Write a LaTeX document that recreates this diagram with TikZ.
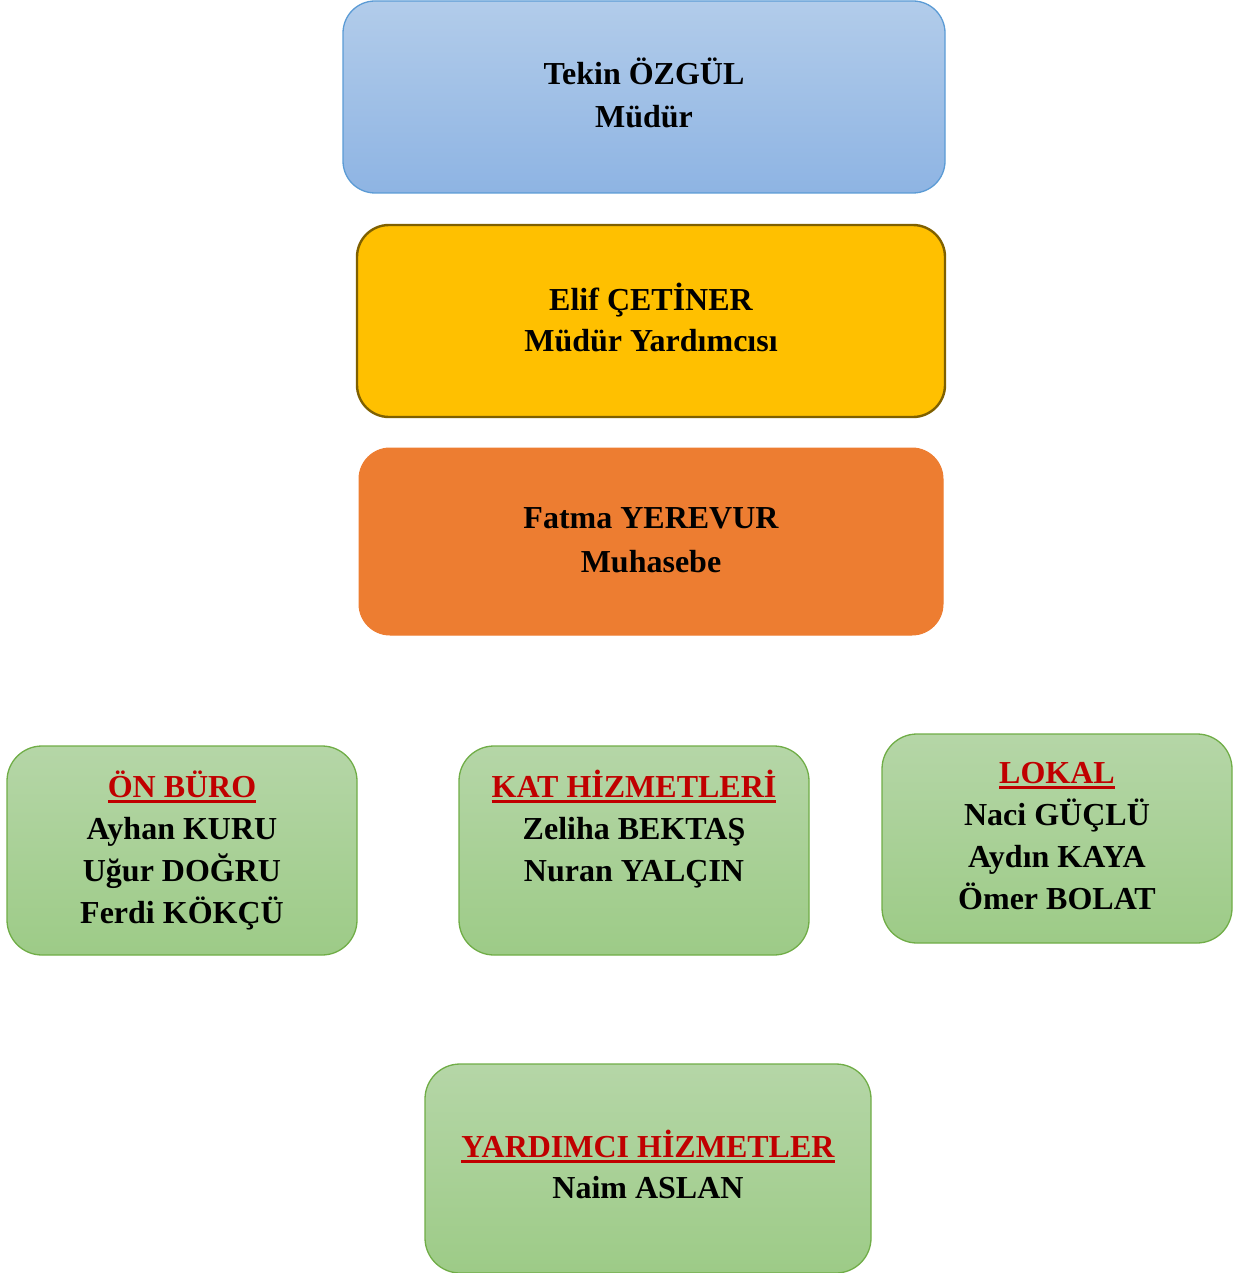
\documentclass[tikz,border=0pt]{standalone}
\usepackage{fontspec}
\setmainfont{Liberation Serif}
\definecolor{bluetop}{HTML}{B2CCEA}
\definecolor{bluebot}{HTML}{8EB4E3}
\definecolor{blueline}{HTML}{5B9BD5}
\definecolor{yellowfill}{HTML}{FFC000}
\definecolor{yellowline}{HTML}{7F6000}
\definecolor{orangefill}{HTML}{ED7D31}
\definecolor{greentop}{HTML}{B5D6A7}
\definecolor{greenbot}{HTML}{9DCB87}
\definecolor{greenline}{HTML}{70AD47}
\definecolor{ulred}{HTML}{C00000}
\newcommand\redul[1]{{\color{ulred}\setbox0\hbox{#1}\rlap{\rule[-6pt]{\wd0}{3pt}}\box0}}
\newcommand\lines[1]{\begin{tabular}{@{}c@{}}#1\end{tabular}}
\tikzset{
  boxbase/.style={rectangle, inner sep=0pt, outer sep=0pt},
  bluebox/.style={boxbase, rounded corners=32pt, draw=blueline, line width=1.3pt, top color=bluetop, bottom color=bluebot},
  yellowbox/.style={boxbase, rounded corners=32pt, draw=yellowline, line width=2.4pt, fill=yellowfill},
  orangebox/.style={boxbase, rounded corners=31pt, draw=orangefill, line width=1pt, fill=orangefill},
  greenbox/.style={boxbase, rounded corners=35pt, draw=greenline, line width=1.3pt, top color=greentop, bottom color=greenbot, minimum height=209pt},
  txt/.style={inner sep=0pt, outer sep=0pt, anchor=north, align=center},
}
\begin{document}
\begin{tikzpicture}[x=1pt,y=1pt]
\path[use as bounding box] (0,0) rectangle (1234,-1273);

% top boxes
\node[bluebox, minimum width=602pt, minimum height=192pt] (mudur) at (644,-97) {};
\node[yellowbox, minimum width=588pt, minimum height=192pt] (yard) at (651,-321) {};
\node[orangebox, minimum width=584pt, minimum height=187pt] (muh) at (651,-541.5) {};

% green boxes
\node[greenbox, minimum width=350pt] (onburo) at (182,-850.5) {};
\node[greenbox, minimum width=350pt] (kat) at (634,-850.5) {};
\node[greenbox, minimum width=350pt] (lokal) at (1057,-838.5) {};
\node[greenbox, minimum width=446pt] (yrd) at (648,-1168.5) {};

% texts
\node[txt, font=\bfseries\fontsize{32}{43}\selectfont] (mudurt) at (644,-54.9)
  {\lines{Tekin ÖZGÜL\\Müdür}};
\node[txt, font=\bfseries\fontsize{32}{41}\selectfont] (yardt) at (651,-281.3)
  {\lines{Elif ÇETİNER\\Müdür Yardımcısı}};
\node[txt, font=\bfseries\fontsize{32}{44}\selectfont] (muht) at (651,-497.2)
  {\lines{Fatma YEREVUR\\Muhasebe}};

\node[txt, font=\bfseries\fontsize{32}{42}\selectfont] (onburot) at (182,-767.6)
  {\lines{\redul{ÖN BÜRO}\\Ayhan KURU\\Uğur DOĞRU\\Ferdi KÖKÇÜ}};
\node[txt, font=\bfseries\fontsize{32}{42}\selectfont] (katt) at (634,-767.6)
  {\lines{\redul{KAT HİZMETLERİ}\\Zeliha BEKTAŞ\\Nuran YALÇIN}};
\node[txt, font=\bfseries\fontsize{32}{42.3}\selectfont] (lokalt) at (1057,-753.4)
  {\lines{\redul{LOKAL}\\Naci GÜÇLÜ\\Aydın KAYA\\Ömer BOLAT}};
\node[txt, font=\bfseries\fontsize{32}{41}\selectfont] (yrdt) at (648,-1128.3)
  {\lines{\redul{YARDIMCI HİZMETLER}\\Naim ASLAN}};
\end{tikzpicture}
\end{document}
